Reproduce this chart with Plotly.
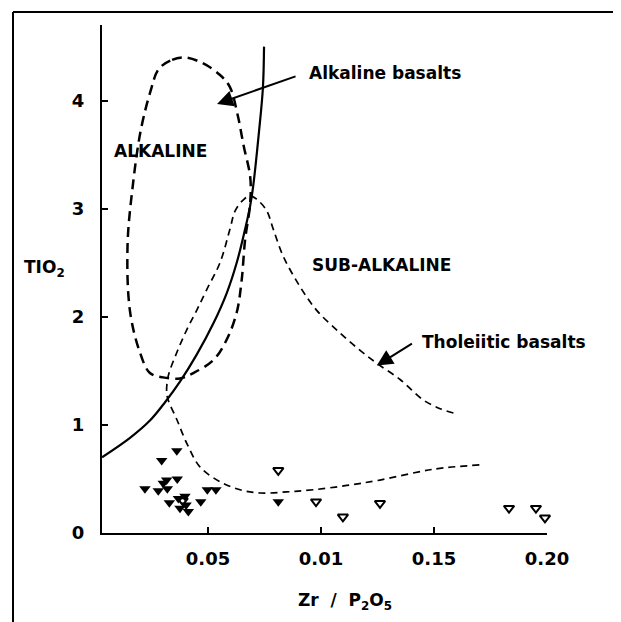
import plotly.graph_objects as go

# Discriminant boundary (solid curve)
boundary_x = [0.0031, 0.0155, 0.0243, 0.0310, 0.0376, 0.0450, 0.0524, 0.0583, 0.0627, 0.0664, 0.0686, 0.0700, 0.0726, 0.0743, 0.0748]
boundary_y = [0.70, 0.88, 1.04, 1.21, 1.40, 1.65, 1.94, 2.22, 2.50, 2.81, 3.02, 3.21, 3.72, 4.12, 4.50]

# Alkaline basalts field (closed dashed loop)
alk_x = [0.0395, 0.0333, 0.0281, 0.0246, 0.0202, 0.0167, 0.0144, 0.0155, 0.0199, 0.0243, 0.0301, 0.0376,
         0.0435, 0.0524, 0.0583, 0.0627, 0.0649, 0.0664, 0.0686, 0.0687, 0.0658, 0.0631, 0.0596, 0.0552, 0.0474, 0.0395]
alk_y = [4.40, 4.37, 4.29, 4.09, 3.72, 3.21, 2.66, 2.05, 1.67, 1.48, 1.44, 1.43,
         1.48, 1.60, 1.79, 2.04, 2.34, 2.71, 3.04, 3.29, 3.58, 3.87, 4.13, 4.24, 4.35, 4.40]

# Tholeiitic basalts field (dashed)
thol_x = [0.1586, 0.1527, 0.1453, 0.1350, 0.1247, 0.1173, 0.1084, 0.0981, 0.0907, 0.0833, 0.0789, 0.0760,
          0.0720, 0.0686, 0.0655, 0.0620, 0.0597, 0.0553, 0.0494, 0.0450, 0.0406, 0.0362, 0.0324, 0.0317,
          0.0324, 0.0362, 0.0406, 0.0465, 0.0553, 0.0642, 0.0730, 0.0848, 0.0966, 0.1114, 0.1261, 0.1497, 0.1704]
thol_y = [1.11, 1.15, 1.23, 1.42, 1.57, 1.69, 1.85, 2.06, 2.28, 2.56, 2.81, 2.98,
          3.08, 3.12, 3.08, 2.98, 2.81, 2.50, 2.25, 2.06, 1.88, 1.67, 1.45, 1.30,
          1.23, 1.05, 0.83, 0.61, 0.475, 0.40, 0.37, 0.38, 0.40, 0.44, 0.49, 0.59, 0.63]

# Samples (filled triangles)
filled_x = [0.0362, 0.0295, 0.0221, 0.0280, 0.0302, 0.0317, 0.0320, 0.0364, 0.0329, 0.0369,
            0.0398, 0.0403, 0.0413, 0.0376, 0.0468, 0.0497, 0.0535, 0.0811]
filled_y = [0.76, 0.67, 0.41, 0.39, 0.46, 0.49, 0.41, 0.50, 0.28, 0.32,
            0.34, 0.26, 0.20, 0.23, 0.29, 0.40, 0.40, 0.29]

# Samples (open triangles)
open_x = [0.0388, 0.0811, 0.0978, 0.1097, 0.1261, 0.1832, 0.1951, 0.1991]
open_y = [0.30, 0.58, 0.29, 0.15, 0.275, 0.23, 0.23, 0.14]

x_tickvals = [0.05, 0.10, 0.15, 0.20]
x_ticktext = ["0.05", "0.01", "0.15", "0.20"]
y_tickvals = [0, 1, 2, 3, 4]
y_ticktext = ["0", "1", "2", "3", "4"]

FONT = "DejaVu Sans"

fig = go.Figure()
fig.add_trace(go.Scatter(x=boundary_x, y=boundary_y, mode="lines",
                         line=dict(color="black", width=2.2, shape="spline"),
                         hoverinfo="skip", showlegend=False))
fig.add_trace(go.Scatter(x=alk_x, y=alk_y, mode="lines",
                         line=dict(color="black", width=2.5, dash="10px,6px", shape="spline", smoothing=1.0),
                         hoverinfo="skip", showlegend=False))
fig.add_trace(go.Scatter(x=thol_x, y=thol_y, mode="lines",
                         line=dict(color="black", width=1.7, dash="7px,5px", shape="spline", smoothing=1.0),
                         hoverinfo="skip", showlegend=False))
fig.add_trace(go.Scatter(x=filled_x, y=filled_y, mode="markers",
                         marker=dict(symbol="triangle-down", size=10, color="black"),
                         cliponaxis=False, showlegend=False))
fig.add_trace(go.Scatter(x=open_x, y=open_y, mode="markers",
                         marker=dict(symbol="triangle-down-open", size=9, color="black",
                                     line=dict(width=2, color="black")),
                         cliponaxis=False, showlegend=False))

txt = dict(family=FONT, size=17, color="black", weight="bold")
annotations = [
    dict(x=0.0074, y=3.53, xref="x", yref="y", text="ALKALINE", showarrow=False,
         xanchor="left", yanchor="middle", font=txt),
    dict(x=0.0951, y=2.48, xref="x", yref="y", text="SUB-ALKALINE", showarrow=False,
         xanchor="left", yanchor="middle", font=txt),
    dict(x=0.0938, y=4.26, xref="x", yref="y", text="Alkaline basalts", showarrow=False,
         xanchor="left", yanchor="middle", font=txt),
    dict(x=0.1438, y=1.77, xref="x", yref="y", text="Tholeiitic basalts", showarrow=False,
         xanchor="left", yanchor="middle", font=txt),
    dict(x=0.0540, y=3.97, ax=0.0894, ay=4.23, xref="x", yref="y", axref="x", ayref="y",
         text="", showarrow=True, arrowhead=2, arrowsize=1.6, arrowwidth=2, arrowcolor="black"),
    dict(x=0.1247, y=1.55, ax=0.1409, ay=1.76, xref="x", yref="y", axref="x", ayref="y",
         text="", showarrow=True, arrowhead=2, arrowsize=1.6, arrowwidth=2, arrowcolor="black"),
    dict(x=0.2146, y=0.14, ax=0.2027, ay=0.14, xref="x", yref="y", axref="x", ayref="y",
         text="", showarrow=True, arrowhead=2, arrowsize=1.3, arrowwidth=2, arrowcolor="black"),
    dict(x=0.2159, y=0.15, xref="x", yref="y", text=".38", showarrow=False,
         xanchor="left", yanchor="middle", font=txt),
    dict(x=-0.079, y=0.52, xref="paper", yref="paper", text="TIO<sub>2</sub>", showarrow=False,
         xanchor="right", yanchor="middle", font=txt),
    dict(x=0.545, y=-0.135, xref="paper", yref="paper", text="Zr  /  P<sub>2</sub>O<sub>5</sub>",
         showarrow=False, xanchor="center", yanchor="middle", font=txt),
]

shapes = [
    dict(type="line", xref="paper", yref="paper", x0=-0.2, x1=1.2, y0=1.0256, y1=1.0256,
         line=dict(color="black", width=2)),
    dict(type="line", xref="paper", yref="paper", x0=-0.2, x1=-0.2, y0=1.0256, y1=-0.2,
         line=dict(color="black", width=2)),
]

# the page body adds an 8px offset; the figure is sized so the plot area lands where the reference has it
fig.update_layout(
    width=613, height=614,
    margin=dict(l=94, r=74, t=17, b=89),
    paper_bgcolor="white", plot_bgcolor="white",
    font=dict(family=FONT, size=18, color="black"),
    annotations=annotations, shapes=shapes,
    showlegend=False,
)
tickfont = dict(family=FONT, size=18, color="black", weight="bold")
fig.update_xaxes(range=[0.0031, 0.2], showgrid=False, zeroline=False,
                 showline=True, linecolor="black", linewidth=2,
                 ticks="inside", ticklen=6, tickwidth=2, tickcolor="black",
                 tickvals=x_tickvals, ticktext=x_ticktext, ticklabelstandoff=8,
                 tickfont=tickfont)
fig.update_yaxes(range=[0, 4.7], showgrid=False, zeroline=False,
                 showline=True, linecolor="black", linewidth=2,
                 ticks="inside", ticklen=6, tickwidth=2, tickcolor="black",
                 tickvals=y_tickvals, ticktext=y_ticktext, ticklabelstandoff=12,
                 tickfont=tickfont)

fig.write_html("out.html")
